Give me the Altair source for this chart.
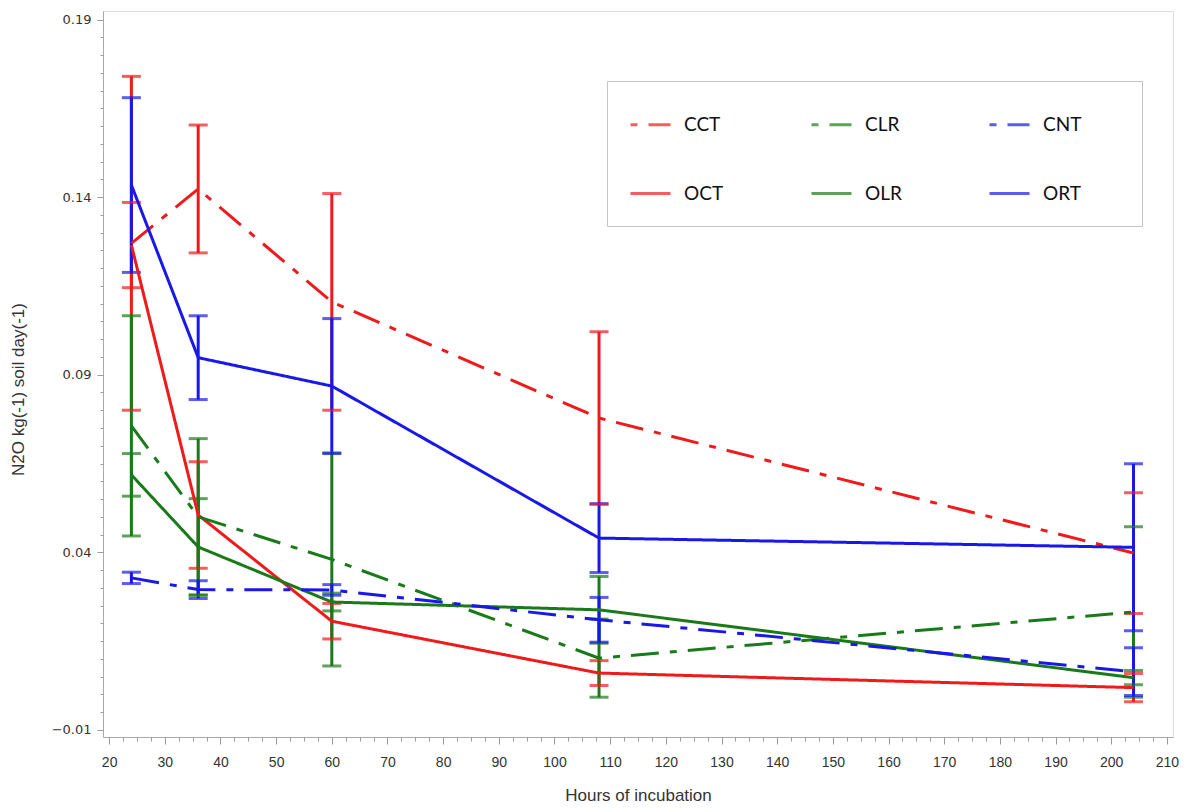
import altair as alt
import pandas as pd
import numpy as np

# ---- data ----
hours = [24, 36, 60, 108, 204]
series_order = ["CCT", "CLR", "CNT", "OCT", "OLR", "ORT"]

cct_mean = [0.1270, 0.1423, 0.1105, 0.0778, 0.0398]
cct_err = [0.0470, 0.0180, 0.0305, 0.0243, 0.0170]
oct_mean = [0.1265, 0.0505, 0.0206, 0.0060, 0.0019]
oct_err = [0.0120, 0.0150, 0.0050, 0.0035, 0.0040]
clr_mean = [0.0756, 0.0500, 0.0380, 0.0102, 0.0232]
clr_err = [0.0310, 0.0220, 0.0300, 0.0110, 0.0240]
olr_mean = [0.0618, 0.0415, 0.0260, 0.0238, 0.0047]
olr_err = [0.0060, 0.0136, 0.0025, 0.0094, 0.0020]
cnt_mean = [0.0328, 0.0295, 0.0294, 0.0210, 0.0064]
cnt_err = [0.0016, 0.0025, 0.0015, 0.0063, 0.0067]
ort_mean = [0.1434, 0.0948, 0.0868, 0.0440, 0.0414]
ort_err = [0.0246, 0.0118, 0.0190, 0.0097, 0.0235]

series_colors = ["#F01A1A", "#1A7A1A", "#1818E8", "#F01A1A", "#1A7A1A", "#1818E8"]
series_dashes = [[28, 11, 7, 11], [28, 11, 7, 11], [28, 11, 7, 11], [1, 0], [1, 0], [1, 0]]

x_ticks = [round(float(v), 2) for v in np.arange(20, 210.01, 2.5)]
y_ticks = [round(float(v), 3) for v in np.arange(-0.01, 0.1901, 0.005)]

# draw order: red, green, blue (blue on top)
draw_order = ["CCT", "OCT", "CLR", "OLR", "CNT", "ORT"]
table = {
    "CCT": (cct_mean, cct_err), "OCT": (oct_mean, oct_err),
    "CLR": (clr_mean, clr_err), "OLR": (olr_mean, olr_err),
    "CNT": (cnt_mean, cnt_err), "ORT": (ort_mean, ort_err),
}
rows = []
for s in draw_order:
    m, e = table[s]
    for h, mv, ev in zip(hours, m, e):
        rows.append({"series": s, "hours": h, "mean": mv, "lo": mv - ev, "hi": mv + ev})
df = pd.DataFrame(rows)

FONT = "Liberation Sans"
x_scale = alt.Scale(domain=[18.9, 211.1], nice=False, zero=False)
y_scale = alt.Scale(domain=[-0.012, 0.1924], nice=False, zero=False)
color_scale = alt.Scale(domain=series_order, range=series_colors)
dash_scale = alt.Scale(domain=series_order, range=series_dashes)

X_MAJOR = "datum.value % 10 === 0"
Y_MAJOR = "(round(datum.value * 1000) + 10) % 50 === 0"

x_axis = alt.Axis(
    values=x_ticks, tickCount=400,
    labelExpr=X_MAJOR + " ? format(datum.value, 'd') : ''",
    labelOverlap=False,
    labelFontSize={"condition": {"test": X_MAJOR, "value": 14}, "value": 0},
    tickSize={"condition": {"test": X_MAJOR, "value": 7}, "value": 4},
    tickColor="#9a9a9a", domainColor="#a8a8a8", grid=False,
    labelFont=FONT, labelColor="#333333", labelPadding=11,
    title="Hours of incubation", titleFont=FONT, titleFontSize=17, titleFontWeight="normal",
    titleColor="#333333", titleY=50,
)
y_axis = alt.Axis(
    values=y_ticks, tickCount=400,
    labelExpr=Y_MAJOR + " ? format(datum.value, '.2f') : ''",
    labelOverlap=False,
    labelFontSize={"condition": {"test": Y_MAJOR, "value": 13}, "value": 0},
    tickSize={"condition": {"test": Y_MAJOR, "value": 6}, "value": 3},
    tickColor="#9a9a9a", domainColor="#a8a8a8", grid=False,
    labelFont="DejaVu Sans", labelColor="#333333", labelPadding=6,
    title="N2O kg(-1) soil day(-1)", titleFont=FONT, titleFontSize=17, titleFontWeight="normal",
    titleColor="#333333", titleX=-76, titleY=378,
)

pad_tail = "\u00a0" * 8 + "\u200b"
legend = alt.Legend(
    title=None, orient="none", legendX=504, legendY=70, direction="horizontal",
    columns=3, symbolType="stroke", symbolSize=1600, symbolStrokeWidth=3,
    symbolDashOffset=39,
    labelFont="Lato", labelFontSize=19, labelColor="#111111", labelOffset=12,
    labelExpr="(datum.label == 'CNT' || datum.label == 'ORT') ? datum.label + '" + pad_tail + "' : datum.label",
    columnPadding=81, rowPadding=37, padding=22,
    strokeColor="#c4c4c4", fillColor="white", cornerRadius=0,
)

base = alt.Chart(df)

lines = base.mark_line(strokeWidth=3).encode(
    x=alt.X("hours:Q", scale=x_scale, axis=x_axis),
    y=alt.Y("mean:Q", scale=y_scale, axis=y_axis),
    color=alt.Color("series:N", scale=color_scale, sort=series_order, legend=legend),
    strokeDash=alt.StrokeDash("series:N", scale=dash_scale, sort=series_order, legend=legend),
    order=alt.Order("hours:Q"),
)

rules = base.mark_rule(strokeWidth=3).encode(
    x=alt.X("hours:Q", scale=x_scale),
    y=alt.Y("lo:Q", scale=y_scale),
    y2="hi:Q",
    color=alt.Color("series:N", scale=color_scale, sort=series_order),
)
caps_hi = base.mark_tick(orient="horizontal", size=19, thickness=3).encode(
    x=alt.X("hours:Q", scale=x_scale),
    y=alt.Y("hi:Q", scale=y_scale),
    color=alt.Color("series:N", scale=color_scale, sort=series_order),
)
caps_lo = base.mark_tick(orient="horizontal", size=19, thickness=3).encode(
    x=alt.X("hours:Q", scale=x_scale),
    y=alt.Y("lo:Q", scale=y_scale),
    color=alt.Color("series:N", scale=color_scale, sort=series_order),
)

chart = alt.layer(rules, caps_hi, caps_lo, lines).properties(
    width=1070, height=726,
    autosize=alt.AutoSizeParams(type="none"),
    padding={"left": 95, "top": 3, "right": 12, "bottom": 66},
).configure_view(stroke="#b4b4b4", strokeWidth=1.5).configure(background="white")

chart.save("out.html", embed_options={"renderer": "svg", "actions": False})
